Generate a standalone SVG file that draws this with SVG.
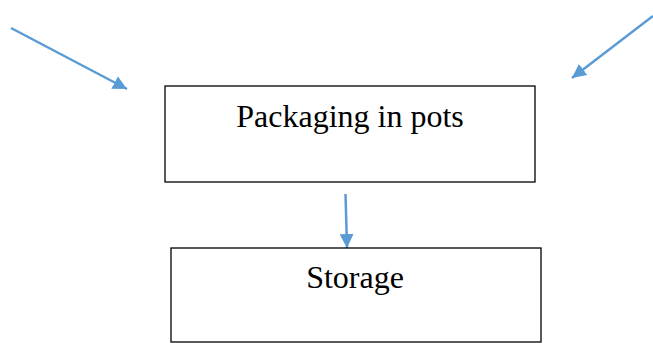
<svg xmlns="http://www.w3.org/2000/svg" width="653" height="343" viewBox="0 0 653 343">
<style>
.box{fill:#fff;stroke:#000;stroke-width:1.3}
.lbl{font-family:"Liberation Serif","Times New Roman",serif;font-size:32px;fill:#000;text-anchor:middle}
.conn{stroke:#5B9BD5;stroke-width:2.5;fill:none}
</style>
<defs>
<marker id="ah" viewBox="0 0 14 14" refX="14" refY="7" markerWidth="14" markerHeight="14" markerUnits="userSpaceOnUse" orient="auto">
<path d="M0,0 L14,7 L0,14 Z" fill="#5B9BD5"/>
</marker>
</defs>
<rect width="653" height="343" fill="#fff"/>
<g id="connectors">
<line class="conn" x1="11" y1="28" x2="127" y2="89" marker-end="url(#ah)"/>
<line class="conn" x1="653" y1="16" x2="572" y2="78" marker-end="url(#ah)"/>
<line class="conn" x1="345.5" y1="194" x2="347" y2="248" marker-end="url(#ah)"/>
</g>
<g id="packaging">
<rect class="box" x="165" y="86" width="370" height="96"/>
<text class="lbl" x="350" y="127">Packaging in pots</text>
</g>
<g id="storage">
<rect class="box" x="171" y="248" width="370" height="94"/>
<text class="lbl" x="355" y="288">Storage</text>
</g>
</svg>
